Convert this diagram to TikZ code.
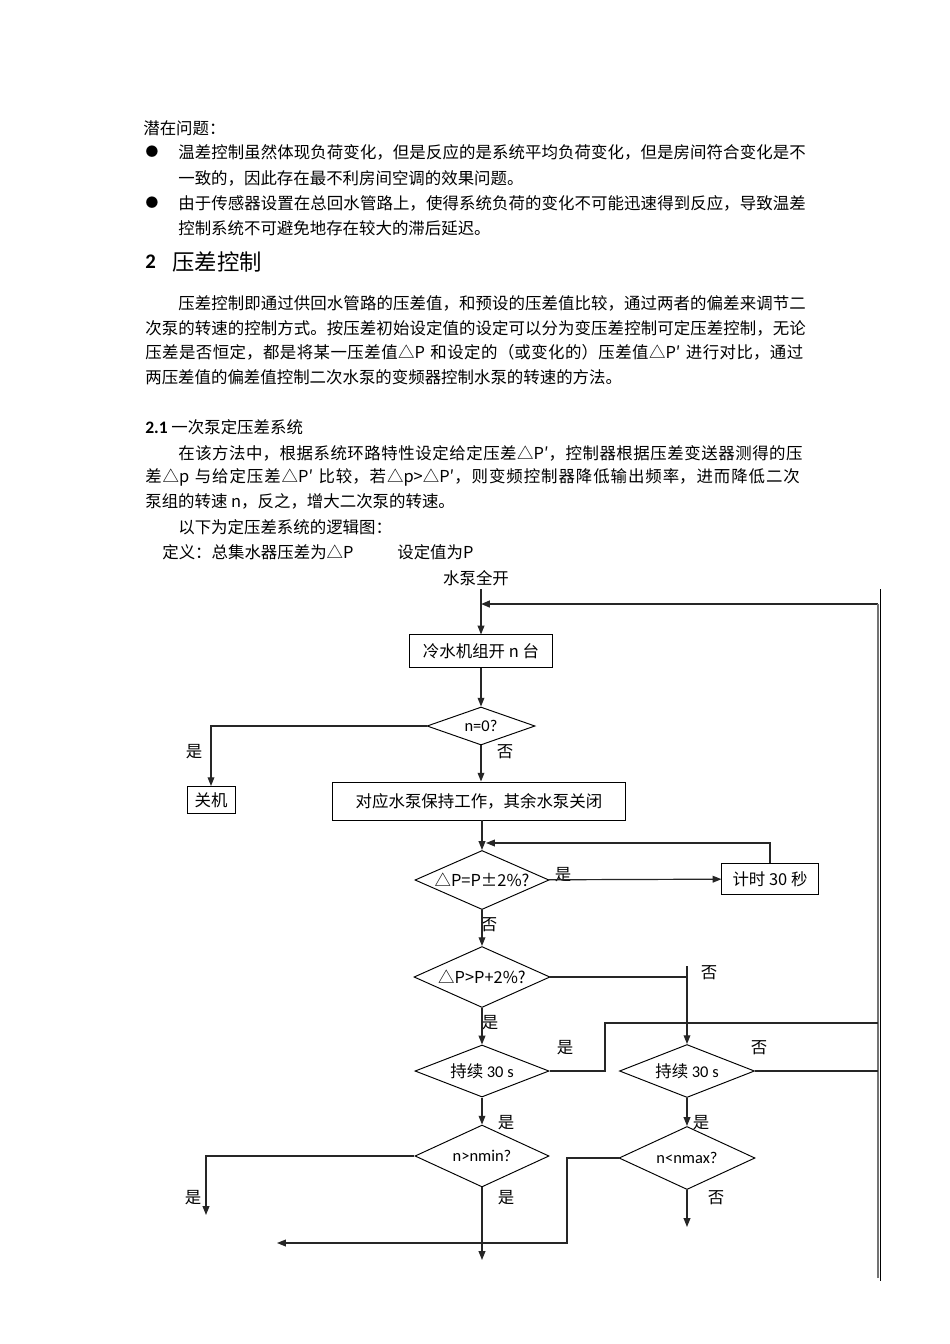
\documentclass[tikz,border=0pt]{standalone}
\usepackage{fontspec}
\setmainfont{Noto Sans CJK SC}
\newfontfamily\lat{Carlito}
\usetikzlibrary{shapes.geometric,arrows.meta}
\XeTeXlinebreaklocale "zh"
\XeTeXlinebreakskip=0pt plus 3pt minus 0.2pt
\newcommand\jl[1]{\parfillskip=0pt\relax\noindent#1\par}
\tikzset{>={Triangle[length=5.5pt,width=4.2pt]}}
\tikzset{
  body/.style={anchor=west,inner sep=0pt,font=\fontsize{10.3}{12}\selectfont},
  wide line/.style={body,text width=414.2pt},
  narrow line/.style={body,text width=393.5pt},
  box/.style={draw=black,line width=0.6pt,inner sep=0pt,font=\fontsize{10.3}{12}\selectfont},
  test/.style={box,shape=diamond,aspect=2.2},
  flow/.style={draw=black!85,line width=0.75pt},
  tag/.style={inner sep=0pt,font=\fontsize{10.3}{12}\selectfont}
}
\begin{document}
\begin{tikzpicture}[x=0.6266pt,y=-0.6266pt]
    \fill[white] (0,0) rectangle (950,1344);
    \useasboundingbox (0,0) rectangle (950,1344);
    % text above the chart
    \node[body] (issue) at (143,128) {潜在问题：};
    \node[body,font=\fontsize{8}{10}\selectfont,anchor=center] (dot1) at (152,152) {●};
    \node[narrow line] (l1) at (178,152) {\jl{温差控制虽然体现负荷变化，但是反应的是系统平均负荷变化，但是房间符合变化是不}};
    \node[body] (l2) at (178,178) {一致的，因此存在最不利房间空调的效果问题。};
    \node[body,font=\fontsize{8}{10}\selectfont,anchor=center] (dot2) at (152,203) {●};
    \node[narrow line] (l3) at (178,203) {\jl{由于传感器设置在总回水管路上，使得系统负荷的变化不可能迅速得到反应，导致温差}};
    \node[body] (l4) at (178,228) {控制系统不可避免地存在较大的滞后延迟。};
    \node[body,font=\fontsize{13}{15}\selectfont\lat\bfseries] (secnum) at (145,262) {2};
    \node[body,font=\fontsize{14}{16}\selectfont] (sec) at (172,262) {压差控制};
    \node[narrow line] (q1) at (178,303) {\jl{压差控制即通过供回水管路的压差值，和预设的压差值比较，通过两者的偏差来调节二}};
    \node[wide line] (q2) at (145,328) {\jl{次泵的转速的控制方式。按压差初始设定值的设定可以分为变压差控制可定压差控制，无论}};
    \node[wide line] (q3) at (145,352) {\jl{压差是否恒定，都是将某一压差值△P 和设定的（或变化的）压差值△P′ 进行对比，通过}};
    \node[body] (q4) at (145,377) {两压差值的偏差值控制二次水泵的变频器控制水泵的转速的方法。};
    \node[body] (sub) at (145,427) {{\lat\bfseries\fontsize{11}{12}\selectfont 2.1} 一次泵定压差系统};
    \node[narrow line] (r1) at (178,453) {\jl{在该方法中，根据系统环路特性设定给定压差△P′，控制器根据压差变送器测得的压}};
    \node[wide line] (r2) at (145,477) {\jl{差△p 与给定压差△P′ 比较，若△p>△P′，则变频控制器降低输出频率，进而降低二次}};
    \node[body] (r3) at (145,501) {泵组的转速 n，反之，增大二次泵的转速。};
    \node[body] (r4) at (178,527) {以下为定压差系统的逻辑图：};
    \node[body] (def) at (162,552) {定义：总集水器压差为△P};
    \node[body] (setp) at (397,552) {设定值为P};
    \node[tag] (start) at (476,578) {水泵全开};
    % chart
    \node[box,minimum width=89.6pt,minimum height=20.1pt] (chill) at (481,651) {冷水机组开 n 台};
    \node[test,minimum width=67.7pt,minimum height=23.8pt] (d0) at (481,726) {\lat n=0?};
    \node[box,minimum width=30.1pt,minimum height=16.9pt] (off) at (211,800) {关机};
    \node[box,minimum width=183pt,minimum height=23.8pt] (keep) at (479,801) {对应水泵保持工作，其余水泵关闭};
    \node[test,minimum width=84pt,minimum height=37pt] (dA) at (482,880) {△P=P±2\%?};
    \node[box,minimum width=60.2pt,minimum height=19.4pt] (timer) at (770,879) {计时 30 秒};
    \node[test,minimum width=85.2pt,minimum height=38.2pt] (dB) at (482,977) {△P>P+2\%?};
    \node[test,minimum width=84pt,minimum height=32.6pt] (dC) at (482,1071) {持续 {\lat 30 s}};
    \node[test,minimum width=84.6pt,minimum height=33.2pt] (dE) at (687,1071) {持续 {\lat 30 s}};
    \node[test,minimum width=84pt,minimum height=38.8pt] (dD) at (482,1156) {\lat n>nmin?};
    \node[test,minimum width=85.2pt,minimum height=39.5pt] (dF) at (687,1158) {\lat n<nmax?};
    \node[tag] (y0) at (194,752) {是};
    \node[tag] (n0) at (505,752) {否};
    \node[tag] (yA) at (563,875) {是};
    \node[tag] (nA) at (489,925) {否};
    \node[tag] (nB) at (709,973) {否};
    \node[tag] (yB) at (490,1023) {是};
    \node[tag] (yC) at (565,1048) {是};
    \node[tag] (nE) at (759,1048) {否};
    \node[tag] (yC2) at (506,1123) {是};
    \node[tag] (yE) at (701,1123) {是};
    \node[tag] (yD1) at (193,1198) {是};
    \node[tag] (yD2) at (506,1198) {是};
    \node[tag] (nF) at (716,1198) {否};
    \coordinate (s0) at (481,589);
    \coordinate (join) at (481,604);
    \coordinate (ret) at (878,1278);
    \coordinate (loop) at (486,843);
    \coordinate (t1) at (687,966);
    \coordinate (c1) at (605,1023);
    \coordinate (e1) at (206,1215);
    \coordinate (e2) at (482,1260);
    \coordinate (f1) at (567,1243);
    \coordinate (e3) at (277,1243);
    \coordinate (e4) at (687,1227);
    \draw[flow,->] (s0) -- (chill);
    \draw[flow,->,line width=1.2pt] (ret |- join) -- (join);
    \draw[draw=black!55,line width=0.7pt] (ret) -- (ret |- join);
    \draw[line width=0.8pt] (880.5,589) -- (880.5,1281);
    \draw[flow,->] (chill) -- (d0);
    \draw[flow,->] (d0.west) -| (off);
    \draw[flow,->] (d0) -- (d0 |- keep.north);
    \draw[flow,->] (dA |- keep.south) -- (dA);
    \draw[flow,->] (dA) -- (timer);
    \draw[flow,->] (timer) |- (loop);
    \draw[flow,->] (dA) -- (dB);
    \draw[flow] (dB) -- (dB -| t1);
    \draw[flow,->] (t1) -- (dE);
    \draw[flow,->] (dB) -- (dC);
    \draw[flow] (dC.east) -| (c1) -- (c1 -| ret);
    \draw[flow] (dE.east) -- (dE.east -| ret);
    \draw[flow,->] (dC) -- (dD);
    \draw[flow,->] (dE) -- (dF);
    \draw[flow,->] (dD.west) -| (e1);
    \draw[flow,->] (dD) -- (e2);
    \draw[flow,->] (dF.west) -| (f1) -- (e3);
    \draw[flow,->] (dF) -- (e4);
\end{tikzpicture}
\end{document}
